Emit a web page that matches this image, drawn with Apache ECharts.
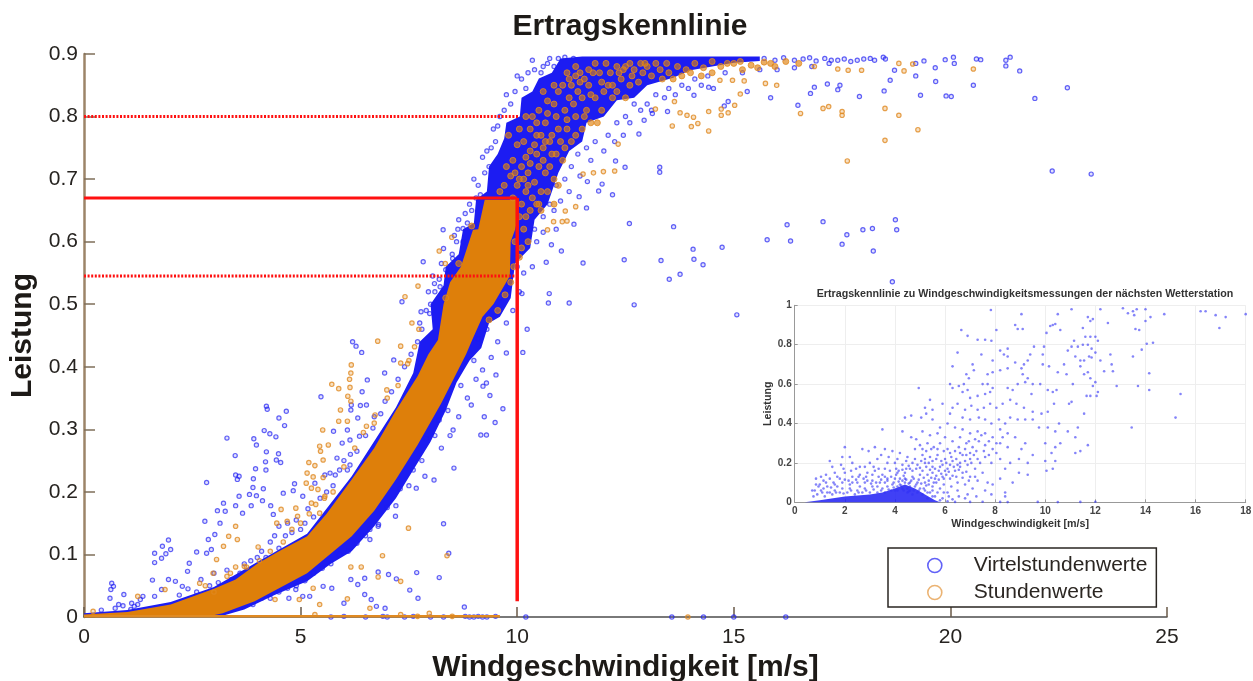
<!DOCTYPE html>
<html><head><meta charset="utf-8">
<style>html,body{margin:0;padding:0;background:#fff}#c{width:1253px;height:681px;filter:blur(.45px)}</style>
<script src="https://cdn.jsdelivr.net/npm/echarts@6/dist/echarts.min.js"></script>
</head><body><div id="c"></div>
<script>
// ---- Main chart: dense parts of the cloud, as outlines
const blueDenseOutline = [[0,0],[0,.006],[1,.011],[2,.024],[3,.048],[4,.088],[5.15,.133],[6.18,.225],[7.2,.335],[7.6,.39],[7.75,.44],[8.05,.46],[8.0,.5],[8.3,.53],[8.35,.56],[8.65,.58],[8.75,.62],[9.0,.63],[9.05,.667],[9.3,.68],[9.35,.72],[9.55,.74],[9.7,.765],[9.75,.79],[10.06,.8],[10.1,.83],[10.35,.84],[10.5,.861],[10.8,.87],[11,.893],[11.5,.896],[15.6,.896],[15.6,.889],[15,.886],[14,.874],[13.6,.862],[13,.85],[12.7,.83],[12.3,.826],[12,.8],[11.6,.79],[11.5,.76],[11.2,.745],[10.95,.71],[10.7,.66],[10.4,.635],[10.3,.59],[9.95,.565],[9.85,.51],[9.6,.48],[9.35,.47],[9.17,.43],[8.9,.41],[8.6,.375],[8.35,.33],[8,.28],[7.6,.235],[7.2,.19],[6.7,.145],[6.18,.105],[5.7,.085],[5.15,.057],[4.4,.035],[3.7,.012],[3.2,.002],[0,0]];
const orangeCoreOutline = [[0,0],[0,.004],[1,.008],[2,.02],[3,.045],[3.5,.06],[4,.085],[4.5,.105],[5.15,.129],[5.6,.165],[6.18,.22],[6.7,.27],[7.2,.33],[7.7,.385],[7.95,.42],[8.17,.443],[8.3,.5],[8.45,.535],[8.7,.56],[8.98,.619],[9.1,.62],[9.25,.667],[10,.667],[10.02,.64],[9.95,.619],[9.85,.6],[9.83,.545],[9.45,.5],[9.2,.48],[8.96,.443],[8.82,.42],[8.25,.342],[7.7,.275],[7.2,.22],[6.7,.17],[6.18,.129],[5.15,.07],[3.94,.025],[3.2,.006],[2.8,0],[0,0]];
// ---- Main chart: individually readable marks
const blueMarks = [.64,.054,.62,.044,.6,.03,.68,.049,.8,.02,.72,.014,.4,.011,1.08,.012,1.24,.02,1.36,.033,1.16,.017,.92,.036,1.3,.028,1.1,.022,.9,.018,1.63,.102,1.63,.087,1.81,.113,1.95,.123,2,.108,1.89,.101,1.79,.094,1.58,.059,1.95,.06,2.11,.057,1.79,.044,1.63,.033,2.27,.049,2.39,.073,2.43,.086,2.6,.104,2.79,.153,2.83,.215,3.08,.17,3.26,.169,3.14,.15,3.02,.132,2.87,.124,2.94,.108,2.83,.102,3.22,.182,3.5,.178,3.58,.193,3.3,.286,3.49,.258,3.92,.285,3.98,.275,4.21,.337,4.23,.332,4.67,.329,4.5,.318,4.63,.306,4.16,.298,4.29,.293,4.43,.288,4.21,.264,4.49,.261,4.19,.248,4.44,.251,4.54,.247,3.96,.237,4.2,.235,3.5,.227,3.58,.225,3.54,.22,3.91,.221,3.9,.207,4.14,.205,3.82,.196,3.98,.194,4.12,.186,3.86,.178,3.66,.166,4.31,.178,4.37,.164,4.6,.198,4.86,.213,4.83,.202,5.05,.193,5.17,.173,5.47,.352,6.17,.339,6.38,.338,6.52,.339,6.42,.36,6.54,.379,6.2,.44,6.28,.433,6.41,.423,6.94,.39,7.15,.411,5.76,.297,5.96,.278,6.14,.283,6.08,.299,5.84,.254,6.36,.289,6.32,.318,6.16,.331,6.67,.302,5.68,.23,5.8,.227,5.56,.227,5.33,.214,6.08,.235,6.14,.243,
8.3,.149,8.42,.102,7.68,.071,8.2,.063,7.03,.068,6.79,.072,6.16,.06,6.48,.062,6.32,.052,7.21,.061,7.52,.043,7.71,.03,6.63,.028,6.48,.036,6.95,.014,8.78,.016,5.05,.033,5.52,.049,5.72,.046,4.89,.044,5.21,.033,4.73,.03,6,.022,6.75,.017,
9.75,.422,10.13,.423,9.51,.387,9.67,.333,9.49,.311,9.24,.32,9.29,.291,9.16,.291,8.94,.339,9.37,.354,9.29,.374,9.21,.369,8.54,.238,8.52,.299,8.08,.219,7.87,.225,7.67,.206,7.19,.161,6.79,.145,6.6,.124,
12.59,.629,13.61,.624,16.23,.627,17.06,.632,18.73,.635,18.76,.619,18.2,.621,17.98,.619,17.61,.611,15.77,.603,16.31,.601,17.5,.596,18.22,.585,14.73,.591,14.06,.588,14.08,.572,14.29,.563,13.32,.57,12.47,.571,11.52,.566,10.67,.567,11.02,.585,10.79,.595,13.51,.54,13.76,.548,10.74,.517,10.72,.502,11.2,.502,10.11,.517,12.7,.499,15.07,.483,18.66,.536,10.23,.46,22.35,.713,23.25,.708,22.7,.846,
21.6,.873,21.95,.829,21.38,.895,21.28,.89,21.28,.881,20.7,.891,20.6,.892,20.07,.895,20.09,.885,19.88,.891,19.65,.878,19.66,.856,20.53,.85,19.9,.833,20.02,.832,19.31,.834,19.39,.889,19.2,.885,19.2,.865,18.71,.874,18.61,.858,18.47,.841,17.9,.832,17.45,.85,17.4,.843,17.16,.852,16.86,.847,16.77,.837,16.48,.818,15.85,.83,15.31,.84,14.87,.824,14.78,.817,14.53,.845,14.42,.847,14.08,.834,13.47,.808,13.12,.805,12.93,.794,12.81,.772,12.49,.719,13.29,.719,13.29,.711,12.27,.729,12.2,.675,11.96,.692,11.88,.681,11.62,.696,11.43,.672,11.6,.654,11.31,.628,10.9,.62,
18.5,.892,18.25,.89,18.45,.895,18,.892,17.7,.888,17.4,.89,17.1,.893,16.9,.889,16.6,.892,17.85,.89,18.15,.893,17.55,.892,15.7,.893,15.95,.89,16.15,.894,16.4,.89,16.75,.894,17.25,.89,
8.29,.619,8.63,.62,8.75,.621,7.83,.568,8.3,.589,8.51,.573,7.34,.504,7.78,.488,7.98,.485,8.09,.533,8.22,.528,
3.9,.02,4.1,.03,4.3,.03,4.5,.04,4.7,.046,4.9,.05,5.1,.058,5.3,.07,5.5,.078,5.7,.085,5.9,.1,6.1,.105,6.3,.118,6.5,.13,6.6,.14,6.8,.148,7,.175,7.2,.178,7.3,.205,7.5,.21,7.6,.235,7.8,.25,7.9,.285,8.1,.29,8.2,.315,8.4,.33,8.5,.37,8.7,.37,8.8,.41,9,.41,9.1,.445,9.3,.46,9.4,.5,9.6,.51,9.8,.55,10,.56,
7.8,.46,7.9,.49,8,.5,8.1,.52,8.2,.54,8.35,.555,8.5,.58,8.6,.6,8.75,.6,8.85,.63,8.95,.65,9.05,.67,9.1,.69,9.25,.71,9.35,.72,9.4,.75,9.5,.76,9.45,.78,9.6,.8,9.7,.81,9.85,.82,9.95,.84,10.1,.86,10.25,.87,10.4,.875,10.6,.88,10.7,.885,10.95,.893,11.1,.895,11.3,.893,
7.75,.47,7.95,.52,8.05,.545,8.25,.565,8.45,.56,8.55,.61,8.65,.635,8.9,.66,9.0,.7,9.2,.735,9.3,.745,9.55,.785,9.75,.835,10.0,.865,10.2,.845,10.35,.89,10.55,.87,10.75,.893,10.85,.88,9.15,.675,8.8,.645,
10.2,.6,10.4,.62,10.6,.64,10.75,.66,10.9,.69,11.1,.7,11.25,.72,11.4,.74,11.6,.75,11.8,.76,12.1,.77,12.3,.79,12.5,.8,12.7,.82,13,.82,13.2,.835,13.5,.845,13.8,.85,14.1,.86,14.4,.865,14.8,.87,15.2,.87,15.6,.875,16,.875,16.4,.878,16.8,.88,17.2,.885,
10.45,.6,10.6,.615,10.35,.56,10.15,.55,10.05,.52,9.9,.49,9.75,.47,9.55,.44,9.4,.415,9.2,.395,9.05,.38,8.85,.35,8.65,.32,8.45,.29,8.25,.27,10.85,.65,11,.665,11.2,.68,11.45,.705,11.7,.73,12,.745,12.25,.76,12.45,.77,12.6,.79,12.85,.81,13.1,.81,13.4,.83,13.65,.835,13.95,.845,14.25,.85,
2.2,.035,2.4,.045,2.6,.04,2.7,.06,2.9,.05,3,.07,3.1,.055,3.3,.075,3.4,.06,3.6,.07,3.7,.085,3.85,.09,4,.095,4.2,.095,4.1,.105,4.3,.12,4.4,.13,4.5,.11,4.65,.13,4.8,.135,4.5,.145,4.7,.15,4.9,.155,5,.14,5.1,.15,5.3,.16,5.45,.19,5.6,.2,5.75,.21,5.9,.235,6,.25,6.15,.26,6.3,.265,6.5,.29,6.7,.32,6.85,.325,6.95,.345,7.1,.36,7.25,.38,7.4,.4,7.55,.42,7.7,.44,
5.7,0,6,.001,6.5,0,6.9,.001,7,0,7.4,0,7.6,.001,8,0,8.3,0,8.8,.001,8.9,0,9,0,9.1,.001,9.2,0,9.3,0,9.5,.001,10.2,0,13.57,0,14.3,0,15,0,16.2,0];
const orangeMarks = [6.17,.403,6.16,.39,6.13,.38,6.14,.367,5.72,.372,5.88,.365,6.09,.353,6.16,.345,5.92,.331,5.88,.313,6.08,.313,5.51,.299,5.44,.273,5.64,.275,5.46,.265,5.52,.251,5.19,.247,5.33,.242,5.15,.23,5.29,.224,5.52,.223,5.13,.214,5.25,.206,5.4,.204,5.56,.193,5.25,.182,5.44,.166,4.93,.161,4.89,.174,4.55,.172,4.69,.153,4.02,.112,3.5,.145,3.34,.129,3.22,.113,3.06,.092,3.54,.124,3.7,.081,3.38,.07,2.98,.07,2.67,.054,1.87,.044,1.24,.033,.21,.009,6.78,.441,7.31,.433,7.31,.406,7.47,.405,7.63,.432,6.99,.363,6.72,.323,6.52,.305,
7.49,.142,8.38,.098,6.89,.098,6.16,.08,6.4,.08,7.31,.057,6.79,.064,6.08,.029,6.6,.014,5.44,.02,4.97,.028,5.29,.046,4.41,.028,7.97,.006,7.31,.004,5.33,.004,
18.49,.762,17.62,.729,19.25,.779,18.49,.813,18.81,.802,17.5,.808,17.5,.802,17.19,.816,17.06,.813,16.54,.805,15.02,.818,14.87,.806,14.71,.802,14.71,.812,14.42,.808,14.42,.777,14.17,.789,14.02,.784,14.07,.799,13.92,.802,13.76,.806,13.58,.785,13.63,.824,13.19,.812,12.33,.756,12.25,.713,11.99,.712,11.76,.71,11.52,.708,11.35,.656,11.11,.649,11.15,.633,11.04,.632,10.84,.632,10.7,.619,15.15,.836,14.97,.858,15.24,.857,15.73,.853,15.99,.85,14.68,.858,17.64,.874,17.95,.874,18.81,.885,19.13,.884,20.53,.876,18.93,.873,16.86,.88,17.4,.876,
8.49,.607,8.2,.585,8.34,.565,7.71,.529,7.41,.512,7.57,.47,7.73,.46,
2.8,.05,3,.04,3.3,.065,3.5,.08,3.75,.08,4.05,.09,4.3,.105,4.6,.12,4.45,.15,4.8,.14,5,.15,5.2,.165,5.35,.18,5.55,.19,5.75,.2,6,.24,6.25,.27,6.45,.295,6.7,.31,7,.35,7.25,.37,7.5,.41,13.94,0,8.5,.001,7.7,.001];
const orangeClusterMarks = [9.7,.69,9.85,.705,10,.69,10.1,.72,9.9,.73,10.25,.71,10.4,.695,10.5,.72,10.3,.745,10.15,.76,10,.755,10.6,.75,10.75,.72,10.9,.74,10.45,.77,10.3,.78,10.65,.79,10.8,.77,11,.76,11.15,.78,10.5,.81,10.7,.825,10.9,.8,11.1,.81,10.95,.84,11.2,.83,11.35,.8,11.5,.78,11.6,.81,11.4,.84,11.2,.86,11.45,.87,11.65,.85,11.8,.83,11.95,.81,12.1,.85,11.9,.87,12.2,.83,12.4,.86,12.6,.85,12.3,.88,12.7,.875,12.9,.87,13.1,.865,13.3,.875,13.5,.87,13.7,.88,13.9,.875,14.1,.885,14.3,.878,14.5,.888,14.7,.88,15,.885,15.2,.875,15.4,.882,15.7,.887,15.95,.88,16.2,.888,16.5,.885,
9.6,.68,9.75,.72,9.9,.67,10.05,.7,10.2,.68,10.35,.67,10.55,.68,10.7,.68,10.85,.66,10.95,.69,10.2,.735,10.45,.74,10.65,.71,10.8,.74,10.35,.8,10.55,.77,10.75,.76,10.95,.78,11.1,.75,11.25,.76,11.35,.77,10.6,.84,10.85,.82,11.05,.85,11.3,.82,11.5,.83,11.7,.79,11.85,.79,11.55,.86,11.75,.87,11.35,.88,12,.84,12.3,.84,12.5,.83,12.15,.87,12.5,.88,12.8,.855,13,.88,11.8,.885,12.05,.885,12.6,.885,12.85,.885,13.2,.885,13.45,.885,13.6,.86,13.8,.865,14,.87,14.25,.865,
9.8,.77,10.05,.78,10.2,.8,10.4,.755,10.6,.73,10.85,.7,11.05,.73,9.95,.71,10.3,.725,10.7,.805,10.45,.79,10.85,.85,11.15,.795,11.25,.85,11.55,.8,11.45,.855,11.7,.835,11.95,.855,12.2,.85,12.35,.87,10.65,.76,10.25,.69,10.5,.66,10.15,.7,11.15,.87,11.35,.865,11.65,.875,12.45,.875,12.65,.865,12.95,.885,13.35,.86,14.5,.87,14.85,.885,15.15,.888,15.55,.878,15.85,.885,
10.05,.64,10.15,.62,10.3,.65,10.25,.6,10.1,.59,10.45,.66,10.55,.65,10.05,.575,9.95,.6,10.1,.66,10.2,.64,9.92,.56,9.85,.535,9.72,.515,9.55,.49,9.35,.475,8.95,.625,8.65,.565,8.35,.51];
const zeroLineOrange = [[0,.001],[9.6,.001]];
const refSolidH = [[0,.67],[10,.67]];
const refSolidV = [[10,.67],[10,.025]];
const refDotHigh = [[0,.8],[10.05,.8]];
const refDotLow = [[0,.545],[10,.545]];
// ---- Inset chart
const insetDenseOutline = [[.4,0],[1,.01],[2,.03],[3,.04],[3.5,.05],[4,.07],[4.4,.09],[4.8,.07],[5.2,.04],[5.6,.01],[5.8,0]];
const insetMarks = [7.83,.976,9.05,.955,11.05,.98,12.2,.98,13.1,.985,13.3,.96,13.5,.97,13.65,.98,14,.98,14.75,.955,16.2,.97,16.4,.97,16.8,.95,17.2,.94,18,.955,6.65,.875,6.9,.845,7.3,.825,7.6,.825,7.85,.82,8.05,.875,8.8,.9,8.9,.88,9.1,.88,10.4,.905,10.5,.955,10.2,.895,10.3,.9,10.6,.875,11.7,.94,11.9,.93,11.8,.92,12.5,.91,14,.92,14.2,.94,13.55,.95,13.6,.88,13.75,.875,14.05,.805,14.3,.81,13.85,.775,13.5,.74,14.15,.655,13.7,.59,14.15,.57,15.4,.55,15.2,.43,13.45,.38,12.85,.59,12.6,.75,12.65,.7,12.7,.665,12.35,.665,12.2,.72,12,.61,11.3,.38,
16.95,.885,11.5,.885,11.6,.84,11.8,.84,12,.84,12.1,.82,11.7,.8,11.85,.78,12,.76,11.75,.74,11.85,.735,11.5,.8,11.3,.79,11.15,.82,11.05,.79,10.9,.77,11.2,.74,11.4,.72,11.55,.72,11.4,.69,11.55,.65,11.7,.66,11.8,.63,12.1,.56,12.05,.54,11.8,.54,11.65,.54,11.9,.59,11.1,.6,11.05,.51,10.95,.5,11.2,.33,11.4,.26,11.2,.25,11.7,.29,11.55,.45,10.05,.86,9.95,.79,9.55,.79,9.9,.75,9.4,.75,9.15,.7,9.3,.72,9.05,.68,8.5,.78,8.2,.77,8.35,.75,8.5,.74,7.9,.72,8.8,.71,8.5,.68,8.2,.67,7.9,.66,7.7,.65,7.1,.7,7.15,.67,6.85,.65,6.95,.63,6.3,.69,6.5,.76,6.9,.57,7.45,.75,7.5,.6,7.7,.6,7.8,.56,7.9,.58,7.6,.55,7.3,.54,7,.53,6.7,.56,6.2,.6,6.3,.58,6.55,.59,6.75,.6,5.9,.5,4.95,.58,5.4,.52,5.2,.48,5.25,.45,5.5,.47,6.2,.45,
8.7,.57,8.5,.58,8.9,.6,9.2,.61,9.5,.6,9.3,.63,9.1,.65,9.45,.55,9.8,.6,10.1,.57,10.3,.56,10.45,.57,10.85,.65,10.5,.66,10.75,.7,9.9,.7,10.15,.69,10.35,.5,10.1,.46,9.85,.45,9.5,.46,9.15,.48,8.85,.5,8.6,.52,8.3,.5,8.05,.48,7.8,.5,7.55,.48,7.3,.47,7.05,.49,6.8,.47,6.5,.5,6.3,.48,6.7,.43,7,.42,7.35,.43,7.6,.42,7.85,.4,8.15,.42,8.4,.4,8.6,.43,8.9,.42,9.2,.42,9.5,.42,9.75,.38,10.1,.38,10.4,.36,10.55,.4,10.9,.36,10.4,.28,10.6,.3,10,.3,10.25,.25,10.4,.21,10,.21,10.3,.17,10.05,.16,9.5,.24,9.2,.3,9.05,.27,8.8,.33,8.5,.35,8.2,.37,7.9,.33,7.6,.35,7.3,.36,7,.35,6.7,.37,6.4,.38,6.1,.4,5.8,.38,5.5,.42,5.05,.43,4.65,.44,4.4,.43,4.3,.36,3.5,.37,
8.5,.28,8.2,.3,7.9,.27,7.6,.29,7.35,.31,7.1,.28,6.85,.3,6.6,.33,6.3,.31,6,.33,5.7,.35,5.4,.34,5.1,.36,4.85,.32,4.65,.33,4.8,.27,5,.29,5.3,.3,5.55,.28,5.8,.3,6.1,.27,6.4,.26,6.7,.24,7,.25,7.3,.22,7.6,.23,7.85,.2,8.2,.22,8.6,.2,8.95,.22,9.3,.2,9.3,.14,8.95,.15,8.7,.1,8.4,.17,8.2,.12,8.4,.05,8.4,.03,7.9,.09,7.7,.1,7.5,.15,7.2,.17,6.9,.19,6.6,.2,6.3,.21,6,.22,5.7,.24,5.4,.23,5.1,.24,4.8,.22,4.5,.23,4.2,.25,3.9,.26,3.6,.27,3.2,.28,2.95,.26,2.7,.27,2,.28,2.2,.23,1.9,.23,1.4,.21,1.5,.18,1.85,.19,2.3,.2,2.6,.18,3,.2,3.3,.22,3.7,.2,4,.2,4.3,.19,4.6,.17,4.9,.19,5.2,.2,5.5,.18,5.8,.18,6.1,.17,6.4,.16,6.7,.15,7,.13,7.3,.11,7.6,.06,7.1,.07,6.8,.09,6.5,.1,6.2,.12,5.9,.13,5.6,.12,5.3,.14,5,.14,4.7,.13,4.4,.15,4.1,.15,3.8,.16,3.5,.14,3.2,.16,2.9,.15,2.6,.14,2.3,.13,2,.15,1.7,.13,1.4,.12,1.15,.11,.85,.12,.7,.06,1,.09,1.3,.08,1.6,.09,1.9,.1,2.2,.09,2.5,.1,2.8,.1,3.1,.11,3.4,.1,3.7,.11,4,.12,4.3,.11,4.6,.1,4.9,.1,5.2,.1,5.5,.08,5.8,.07,6.1,.05,6.5,.06,6.9,.04,6.1,.005,6.4,.002,7,.002,7.5,.003,8.2,.002,8.5,.001,9.7,.002,10.5,.001,11.4,.002,12,.003];
const insetMarksLow = [4.2,.09,4.4,.1,4.6,.08,4.8,.08,5,.07,5.2,.06,5.4,.05,5.1,.04,4.9,.05,4.5,.07,4.3,.07,4.1,.08,3.9,.09,3.7,.08,3.5,.07,3.3,.08,3.1,.08,2.8,.07,2.5,.06,2.2,.07,1.9,.07,1.6,.06,1.3,.05,1.1,.05,.9,.04,1.2,.03,1.5,.04,1.8,.05,2.1,.05,2.4,.04,2.7,.05,3,.05,3.3,.05,3.6,.05,4,.06,4.5,.05,4.7,.04,5.3,.02,5.6,.03,5.8,.01,4.2,.12,4.4,.12,4.6,.06,3.85,.13,4.05,.14,3.95,.1,5.5,.03,5.7,.05,5.35,.09,5.65,.1,5.95,.09,6.25,.08,
4.15,.105,4.25,.085,4.35,.135,4.45,.115,4.55,.095,4.65,.11,4.75,.12,4.85,.09,4.95,.115,5.05,.095,5.15,.125,5.25,.085,5.35,.11,5.45,.125,5.55,.1,5.65,.135,5.75,.115,5.85,.145,5.95,.12,6.05,.14,6.15,.155,6.3,.135,6.45,.13,6.55,.165,6.7,.125,6.85,.155,6.95,.11,7.05,.2,7.2,.13,4.05,.17,4.15,.16,4.3,.165,4.45,.17,4.55,.185,4.7,.16,4.85,.17,5,.175,5.1,.16,5.25,.18,5.4,.165,5.5,.15,5.6,.17,5.75,.16,5.9,.19,6,.16,6.2,.19,6.35,.18,6.5,.19,6.6,.18,6.8,.21,7,.22,7.15,.24,7.4,.2,7.55,.26,7.75,.24,8.05,.25,5.05,.21,5.2,.22,5.35,.2,5.5,.21,5.65,.22,5.85,.21,6.05,.2,6.25,.23,6.45,.22,6.6,.25,6.85,.24,7.25,.26,5.1,.27,5.25,.26,5.45,.27,5.7,.27,5.95,.26,6.2,.25,6.55,.28,6.8,.27,6.95,.31,7.2,.32,7.45,.34,7.75,.31,8.05,.3,8.3,.33,
3.7,.12,3.6,.1,3.45,.115,3.25,.1,3.05,.095,2.9,.11,2.75,.12,2.6,.08,2.45,.115,2.3,.1,2.15,.11,2,.115,1.8,.12,1.7,.08,1.55,.1,1.45,.075,1.25,.1,1.15,.07,1.05,.06,.95,.08,.8,.06,.75,.03,1.4,.05,1.65,.05,1.95,.045,2.25,.06,2.55,.05,2.85,.06,3.15,.065,3.45,.06,3.75,.065,3.85,.06,3.95,.075,4.1,.06,4.35,.06,4.55,.055,4.75,.06,4.95,.06,5.15,.07,5.3,.05,5.5,.06,3.6,.13,3.35,.13,3.1,.14,2.85,.13,2.55,.13,2.25,.16,1.95,.17,1.6,.15,1.25,.14,1.05,.13,.85,.09,3.35,.17,3.6,.17,3.15,.18,2.8,.18,2.45,.17,4.7,.2,4.45,.21,4.1,.22,3.75,.23,3.45,.24,6.55,.03,6.8,.02,6.15,.03,5.95,.05,7.25,.03,7.85,.04,5.9,.02,6.3,.015];
const pairs = flat => { const out = []; for (let i = 0; i < flat.length; i += 2) out.push([flat[i], flat[i + 1]]); return out; };

const BLUE = '#1c1cf2', ORANGE = '#de7f0a', RING_OR = '#e08a22', TAN = '#9c8468', INK = '#1d1a17';
const FONT = '"Liberation Sans", Arial, sans-serif';

const polygon = (name, outline, fill, z, xi, yi) => ({
  type: 'custom', name, xAxisIndex: xi, yAxisIndex: yi, z, silent: true, clip: false, data: [[outline[0][0], outline[0][1]]],
  renderItem: (p, api) => ({ type: 'polygon', shape: { points: outline.map(q => api.coord(q)) }, style: { fill } })
});
const line = (name, data, width, type) => ({
  type: 'line', name, data, z: 20, silent: true, symbol: 'none', animation: false,
  lineStyle: { color: '#ff1010', width, type, cap: 'butt' }
});

const chart = echarts.init(document.getElementById('c'), null, { renderer: 'canvas' });
chart.setOption({
  animation: false, backgroundColor: '#fff',
  title: [
    { text: 'Ertragskennlinie', left: 625, top: 7, textAlign: 'center', textStyle: { fontFamily: FONT, fontSize: 30, fontWeight: 'bold', color: INK } },
    { text: 'Ertragskennlinie zu Windgeschwindigkeitsmessungen der nächsten Wetterstation', left: 1020, top: 284, textAlign: 'center', textStyle: { fontFamily: FONT, fontSize: 10.7, fontWeight: 'bold', color: '#333' } }
  ],
  legend: {
    data: [
      { name: 'Virtelstundenwerte', itemStyle: { color: '#fff', borderColor: '#3a3af5', borderWidth: 1.6 } },
      { name: 'Stundenwerte', itemStyle: { color: '#fff', borderColor: '#e6a050', borderWidth: 1.6 } }
    ],
    left: 888, top: 548, orient: 'vertical', selectedMode: false,
    backgroundColor: '#fff', borderColor: '#2a2622', borderWidth: 1.5, padding: [7, 9, 4, 39], itemWidth: 14, itemHeight: 14, itemGap: 6, z: 30,
    icon: 'circle', textStyle: { fontFamily: FONT, fontSize: 21, color: '#2b2622', padding: [0, 0, 0, 27] }
  },
  grid: [
    { left: 84, top: 54, width: 1083, height: 563, show: false, outerBoundsMode: 'none' },
    { left: 794.7, top: 305.3, width: 451, height: 197, show: true, backgroundColor: '#fff', borderWidth: 0, z: 5, outerBoundsMode: 'none' }
  ],
  xAxis: [
    { gridIndex: 0, type: 'value', min: 0, max: 25, interval: 5, splitLine: { show: false },
      name: 'Windgeschwindigkeit [m/s]', nameLocation: 'middle', nameGap: 36, nameTextStyle: { fontFamily: FONT, fontSize: 30, fontWeight: 'bold', color: INK },
      axisLine: { lineStyle: { color: '#4d4d4d', width: 1.5 } }, axisTick: { inside: true, length: 10, lineStyle: { color: '#6a5a48', width: 1.5 } },
      axisLabel: { fontFamily: FONT, fontSize: 21, color: '#262320', margin: 10 } },
    { gridIndex: 1, type: 'value', min: 0, max: 18, interval: 2, z: 6, splitLine: { show: true, lineStyle: { color: '#eeeeee', width: 1 } },
      name: 'Windgeschwindigkeit [m/s]', nameLocation: 'middle', nameGap: 16, nameTextStyle: { fontFamily: FONT, fontSize: 10.7, fontWeight: 'bold', color: '#333' },
      axisLine: { lineStyle: { color: '#999', width: 1 } }, axisTick: { inside: true, length: 3, lineStyle: { color: '#999' } },
      axisLabel: { fontFamily: FONT, fontSize: 10, fontWeight: 'bold', color: '#444', margin: 4 } }
  ],
  yAxis: [
    { gridIndex: 0, type: 'value', min: 0, max: .9, interval: .1, splitLine: { show: false },
      name: 'Leistung', nameLocation: 'middle', nameGap: 43, nameTextStyle: { fontFamily: FONT, fontSize: 30, fontWeight: 'bold', color: INK },
      axisLine: { lineStyle: { color: TAN, width: 2.5 } }, axisTick: { inside: true, length: 11, lineStyle: { color: '#7f6f5a', width: 1.5 } },
      axisLabel: { fontFamily: FONT, fontSize: 21, color: '#262320', margin: 6 } },
    { gridIndex: 1, type: 'value', min: 0, max: 1, interval: .2, z: 6, splitLine: { show: true, lineStyle: { color: '#eeeeee', width: 1 } },
      name: 'Leistung', nameLocation: 'middle', nameGap: 21, nameTextStyle: { fontFamily: FONT, fontSize: 10.7, fontWeight: 'bold', color: '#333' },
      axisLine: { lineStyle: { color: '#999', width: 1 } }, axisTick: { inside: true, length: 3, lineStyle: { color: '#999' } },
      axisLabel: { fontFamily: FONT, fontSize: 10, fontWeight: 'bold', color: '#444', margin: 3 } }
  ],
  series: [
    polygon('blueDense', blueDenseOutline, BLUE, 2, 0, 0),
    { type: 'scatter', name: 'Virtelstundenwerte', z: 3, clip: false, large: false, data: pairs(blueMarks), symbol: 'circle', symbolSize: 4.2,
      itemStyle: { color: 'rgba(40,40,245,.18)', borderColor: 'rgba(28,28,242,.85)', borderWidth: 1.2 } },
    polygon('orangeCore', orangeCoreOutline, ORANGE, 4, 0, 0),
    { type: 'line', name: 'orangeZero', data: zeroLineOrange, z: 4, symbol: 'none', silent: true, lineStyle: { color: RING_OR, width: 2.5 } },
    { type: 'scatter', name: 'Stundenwerte', z: 5, clip: false, data: pairs(orangeMarks), symbol: 'circle', symbolSize: 4.4,
      itemStyle: { color: 'rgba(222,127,10,.3)', borderColor: RING_OR, borderWidth: 1.2 } },
    { type: 'scatter', name: 'orangeCluster', z: 5, clip: false, silent: true, data: pairs(orangeClusterMarks), symbol: 'circle', symbolSize: 6,
      itemStyle: { color: 'rgba(222,127,10,.8)', borderColor: RING_OR, borderWidth: 1 } },
    line('refSolidH', refSolidH, 3, 'solid'),
    line('refSolidV', refSolidV, 3.5, 'solid'),
    line('refDotHigh', refDotHigh, 3, [2, 1.6]),
    line('refDotLow', refDotLow, 3, [2, 1.6]),
    polygon('insetDense', insetDenseOutline, 'rgba(30,30,245,.85)', 7, 1, 1),
    { type: 'scatter', name: 'Inset', xAxisIndex: 1, yAxisIndex: 1, z: 8, clip: false, silent: true, data: pairs(insetMarks.concat(insetMarksLow)), symbol: 'circle', symbolSize: 2.6,
      itemStyle: { color: 'rgba(50,50,245,.75)' } }
  ]
});
</script></body></html>
